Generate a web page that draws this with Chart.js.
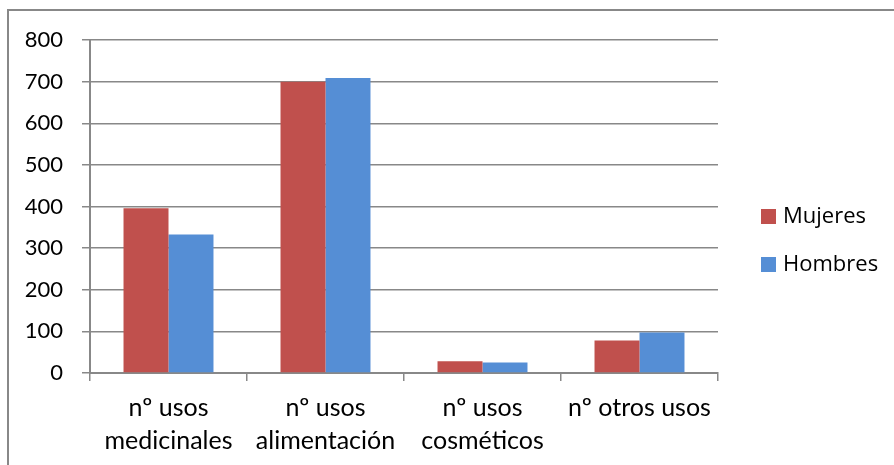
<!DOCTYPE html>
<html>
<head>
<meta charset="utf-8">
<script src="https://cdn.jsdelivr.net/npm/chart.js@4"></script>
<style>
    html, body { margin: 0; padding: 0; background: #fff; }
    #wrap { position: relative; width: 894px; height: 465px; overflow: hidden; }
    #frame { position: absolute; left: 7px; top: 9px; right: -10px; bottom: -10px; border-top: 2px solid #888; border-left: 2px solid #888; }
    #usosChart { position: absolute; left: 0; top: 0; }
</style>
</head>
<body>
<div id="wrap">
    <div id="frame"></div>
    <canvas id="usosChart" width="894" height="465"></canvas>
</div>
<script>
const categories = [
    ['nº usos', 'medicinales'],
    ['nº usos', 'alimentación'],
    ['nº usos', 'cosméticos'],
    'nº otros usos'
];
const mujeres = [396, 700, 28, 78];
const hombres = [333, 709, 25, 97];
const yTicks = [0, 100, 200, 300, 400, 500, 600, 700, 800];

document.addEventListener('DOMContentLoaded', function() {
    // legend drawn by hand so it sits where the original one is
    const sideLegend = {
        id: 'sideLegend',
        afterDraw(chart) {
            const c = chart.ctx;
            c.save();
            c.font = '22px "Open Sans"';
            c.textBaseline = 'middle';
            c.textAlign = 'left';
            chart.data.datasets.forEach(function(ds, i) {
                const y = 216 + i * 48;
                c.fillStyle = ds.backgroundColor;
                c.fillRect(761, y - 7, 15, 15);
                c.fillStyle = '#000';
                c.fillText(ds.label, 783, y + 1);
            });
            c.restore();
        }
    };

    const ctx = document.getElementById('usosChart');
    if (ctx) {
        new Chart(ctx, {
            type: 'bar',
            data: {
                labels: categories,
                datasets: [{
                    label: 'Mujeres',
                    data: mujeres,
                    backgroundColor: '#C0504D'
                }, {
                    label: 'Hombres',
                    data: hombres,
                    backgroundColor: '#558ED5'
                }]
            },
            options: {
                responsive: false,
                animation: false,
                layout: {
                    padding: { left: 0, top: 40, right: 176, bottom: 0 }
                },
                datasets: {
                    bar: { barPercentage: 1, categoryPercentage: 0.573 }
                },
                plugins: {
                    legend: { display: false },
                    tooltip: { enabled: false }
                },
                scales: {
                    x: {
                        grid: {
                            offset: true,
                            drawOnChartArea: false,
                            color: '#888',
                            lineWidth: 1.5,
                            tickLength: 8
                        },
                        border: { color: '#888', width: 2 },
                        ticks: {
                            color: '#000',
                            padding: 10,
                            maxRotation: 0,
                            autoSkip: false,
                            font: { family: 'Lato', size: 25, lineHeight: 1.32 }
                        },
                        afterFit: function(scale) {
                            scale.height = 92;
                            scale.paddingLeft = 0;
                            scale.paddingRight = 0;
                        }
                    },
                    y: {
                        min: 0,
                        max: 800,
                        afterBuildTicks: function(scale) {
                            scale.ticks = yTicks.map(v => ({ value: v }));
                        },
                        grid: {
                            color: '#888',
                            lineWidth: 1.5,
                            tickLength: 8
                        },
                        border: { color: '#888', width: 2 },
                        ticks: {
                            color: '#000',
                            padding: 19,
                            font: { family: 'Lato', size: 22 }
                        },
                        afterFit: function(scale) {
                            scale.width = 90;
                            scale.paddingTop = 0;
                            scale.paddingBottom = 0;
                        }
                    }
                }
            },
            plugins: [sideLegend]
        });
    }
});
</script>
</body>
</html>
